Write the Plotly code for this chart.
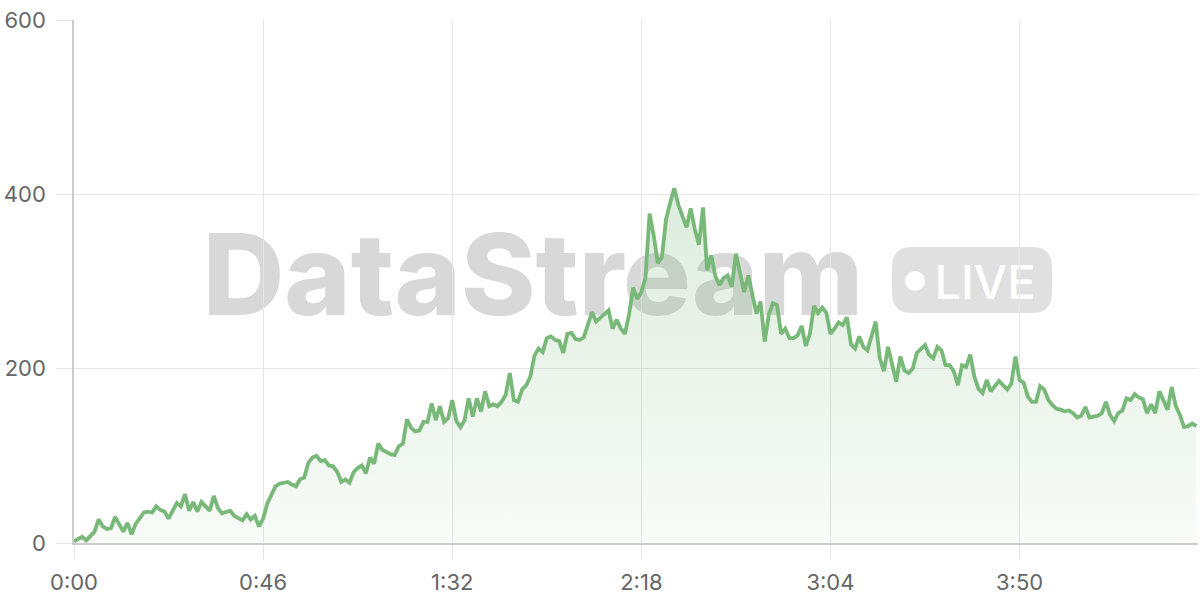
import plotly.graph_objects as go

# ---- data (seconds, viewers) ----
seconds = list(range(0, 274))
values = [
    2, 5, 7, 3, 8, 13, 27, 19, 16, 17,
    30, 22, 13, 23, 10, 22, 29, 35, 36, 35,
    42, 38, 36, 28, 37, 46, 42, 56, 37, 47,
    36, 47, 42, 37, 54, 40, 34, 35, 37, 31,
    29, 26, 33, 27, 31, 19, 28, 45, 55, 65,
    68, 69, 70, 67, 65, 73, 75, 92, 98, 100,
    94, 95, 89, 88, 82, 70, 73, 69, 81, 86,
    89, 80, 98, 91, 114, 107, 104, 102, 101, 111,
    114, 142, 132, 128, 129, 139, 139, 160, 141, 157,
    139, 143, 164, 140, 133, 141, 166, 145, 166, 151,
    174, 157, 159, 157, 162, 170, 195, 164, 162, 176,
    181, 191, 215, 223, 219, 235, 237, 233, 232, 218,
    240, 241, 234, 233, 236, 250, 265, 254, 258, 262,
    267, 246, 256, 246, 240, 262, 293, 280, 288, 304,
    378, 353, 321, 328, 371, 390, 407, 388, 375, 362,
    384, 360, 342, 385, 313, 330, 306, 296, 304, 307,
    294, 332, 310, 288, 307, 285, 263, 277, 231, 262,
    275, 273, 240, 246, 235, 235, 238, 249, 226, 240,
    272, 264, 270, 264, 240, 246, 253, 250, 259, 228,
    223, 237, 225, 221, 237, 254, 212, 197, 225, 206,
    185, 214, 198, 195, 200, 218, 222, 227, 216, 212,
    225, 221, 204, 204, 197, 181, 204, 202, 216, 191,
    177, 172, 187, 174, 180, 186, 181, 176, 183, 214,
    187, 184, 168, 162, 162, 180, 176, 164, 158, 154,
    153, 151, 152, 149, 144, 146, 156, 144, 145, 146,
    149, 162, 147, 140, 149, 152, 166, 164, 171, 167,
    165, 149, 159, 149, 174, 162, 153, 179, 157, 147,
    133, 134, 137, 134,
]
x_tickvals = [0, 46, 92, 138, 184, 230]
x_ticktext = ["0:00", "0:46", "1:32", "2:18", "3:04", "3:50"]
y_tickvals = [0, 200, 400, 600]

LINE = "#78b878"
GRID = "#e6e6e6"
TICKFONT = dict(family="Inter", size=22, color="#666666")

W, H = 1200, 600
ML, MR, MT, MB = 74, 2, 20, 57
PW, PH = W - ML - MR, H - MT - MB


def px(xp):
    return (xp - ML) / PW


def py(yp):
    return (H - MB - yp) / PH


fig = go.Figure()
fig.add_trace(go.Scatter(
    x=seconds, y=values, mode="lines",
    line=dict(color=LINE, width=3.8),
    fill="tozeroy",
    fillgradient=dict(
        type="vertical",
        start=0, stop=410,
        colorscale=[[0, "rgba(120,184,120,0.05)"], [1, "rgba(120,184,120,0.26)"]],
    ),
    hoverinfo="x+y",
    showlegend=False,
))

shapes = []
# watermark word
shapes.append(dict(
    type="rect", xref="paper", yref="paper", layer="below",
    x0=px(198), x1=px(868), y0=py(320), y1=py(220),
    line=dict(width=0), fillcolor="rgba(0,0,0,0)",
    label=dict(text="DataStream", textposition="middle center",
               font=dict(family="Inter", size=113, color="#d8d8d8", weight=800)),
))
# LIVE badge (pill)
r = 20
w2, h2 = 80, 33
path = (f"M {-w2 + r},{-h2} L {w2 - r},{-h2} Q {w2},{-h2} {w2},{-h2 + r} "
        f"L {w2},{h2 - r} Q {w2},{h2} {w2 - r},{h2} L {-w2 + r},{h2} "
        f"Q {-w2},{h2} {-w2},{h2 - r} L {-w2},{-h2 + r} Q {-w2},{-h2} {-w2 + r},{-h2} Z")
shapes.append(dict(
    type="path", xref="paper", yref="paper", layer="below",
    xsizemode="pixel", ysizemode="pixel",
    xanchor=px(972), yanchor=py(280),
    path=path, line=dict(width=0), fillcolor="#e0e0e0",
))
shapes.append(dict(
    type="circle", xref="paper", yref="paper", layer="below",
    xsizemode="pixel", ysizemode="pixel",
    xanchor=px(915), yanchor=py(281),
    x0=-10, x1=10, y0=-10, y1=10,
    line=dict(width=0), fillcolor="white",
))
shapes.append(dict(
    type="rect", xref="paper", yref="paper", layer="below",
    x0=px(935), x1=px(1035), y0=py(305), y1=py(255),
    line=dict(width=0), fillcolor="rgba(0,0,0,0)",
    label=dict(text="LIVE", textposition="middle center",
               font=dict(family="Inter", size=47, color="white", weight=500)),
))

fig.update_layout(
    width=W, height=H,
    margin=dict(l=ML, r=MR, t=MT, b=MB),
    paper_bgcolor="white", plot_bgcolor="white",
    shapes=shapes,
    xaxis=dict(
        range=[0, 273.4], tickvals=x_tickvals, ticktext=x_ticktext,
        showgrid=True, gridcolor=GRID, gridwidth=1,
        zeroline=False, showline=True, linecolor="#cccccc", linewidth=1.5,
        ticks="outside", ticklen=15, tickcolor=GRID, tickwidth=1,
        tickfont=TICKFONT, ticklabelstandoff=4,
    ),
    yaxis=dict(
        range=[0, 600], tickvals=y_tickvals,
        showgrid=True, gridcolor=GRID, gridwidth=1,
        zeroline=False, showline=True, linecolor="#cccccc", linewidth=1.5,
        ticks="outside", ticklen=16, tickcolor=GRID, tickwidth=1,
        tickfont=TICKFONT, ticklabelstandoff=6,
    ),
)

fig.write_html("out.html", config={"displayModeBar": False},
               post_script="document.body.style.margin='0';")
